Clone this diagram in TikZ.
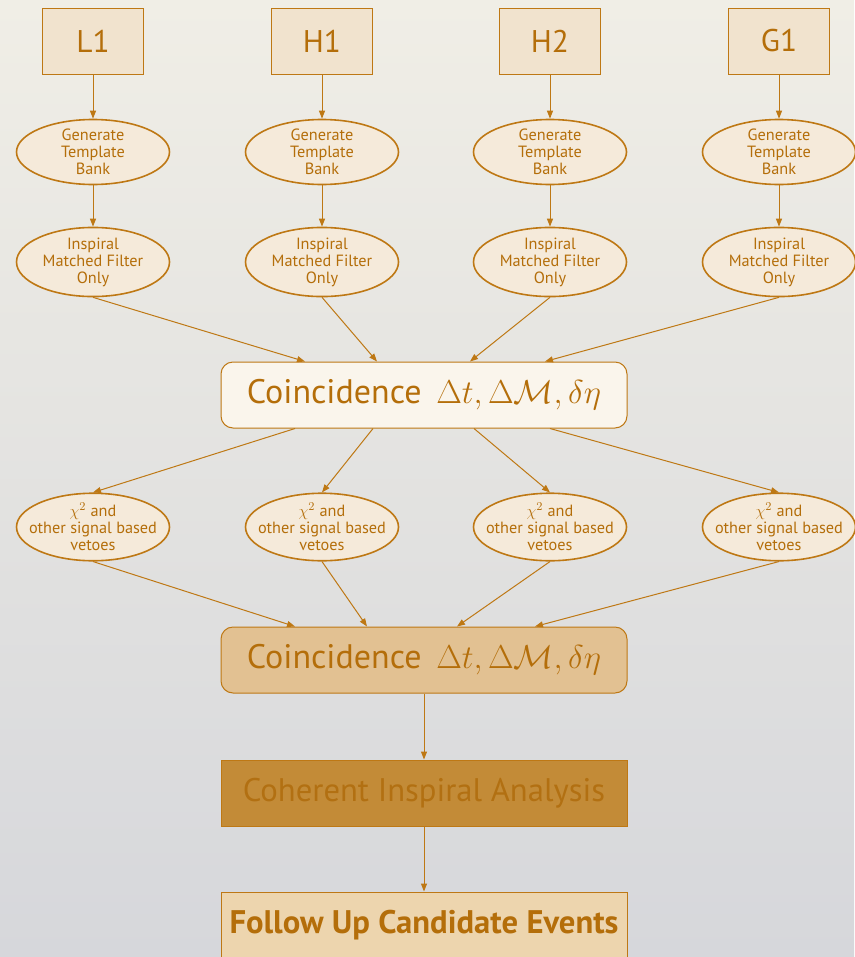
\documentclass[tikz,border=0pt]{standalone}
\usepackage{fontspec}
\setmainfont{PT Sans}
\usepackage{amsmath}
\usetikzlibrary{shapes.geometric,arrows.meta,calc}
\definecolor{ligo}{RGB}{190,120,20}
\definecolor{ligotext}{RGB}{180,110,10}
\definecolor{ifofill}{RGB}{241,227,206}
\definecolor{ellfill}{RGB}{245,234,218}
\definecolor{coinfill}{RGB}{250,245,236}
\definecolor{coinbfill}{RGB}{226,193,146}
\definecolor{cohfill}{RGB}{195,139,55}
\definecolor{cohtext}{RGB}{178,112,18}
\definecolor{followfill}{RGB}{237,213,174}
\definecolor{skytop}{RGB}{240,238,230}
\definecolor{skybot}{RGB}{214,215,219}
\tikzset{every picture/.style={line width=0.75pt}}

\begin{document}
\begin{tikzpicture}[x=0.75pt,y=0.75pt,yscale=-1,xscale=1,
	ifo/.style={draw=ligo,fill=ifofill,minimum width=75.75pt,minimum height=49.5pt,inner sep=0.75pt,text=ligotext,font=\fontsize{23.5}{27}\selectfont},
	stage/.style={ellipse,draw=ligo,line width=1.2pt,fill=ellfill,minimum width=114.75pt,minimum height=48.75pt,inner xsep=-8pt,inner ysep=0pt,align=center,text=ligotext,font=\fontsize{12.2}{12.75}\selectfont},
	wide/.style={draw=ligo,minimum width=304.5pt,minimum height=49.5pt,inner sep=0.75pt,text=ligotext,font=\fontsize{25.5}{28}\selectfont},
	flow/.style={draw=ligo,-{Triangle[length=6pt,width=4.5pt]}}]
	%set diagram to 854 x 957
	\shade[top color=skytop,bottom color=skybot] (0,0) rectangle (854,957);
	\useasboundingbox (0,0) rectangle (854,957);
	
	%Detectors and their chains
	\foreach \n/\x in {L1/93,H1/322,H2/550,G1/779}{
		\node[ifo] (\n) at (\x,41) {\n};
		\node[stage] (gen\n) at (\x,152) {Generate\\Template\\Bank};
		\node[stage] (ins\n) at (\x,262) {Inspiral\\Matched Filter\\Only};
		\node[stage] (chi\n) at (\x,527) {$\chi^2$ and\\other signal based\\vetoes};
		\draw[flow] (\n) -- (gen\n);
		\draw[flow] (gen\n) -- (ins\n);
	}
	
	%Coincidence stages
	\node[wide,rounded corners=9pt,fill=coinfill] (coA) at (424,395) {Coincidence\, $\Delta t, \Delta\mathcal{M}, \delta\eta$};
	\node[wide,rounded corners=9pt,fill=coinbfill] (coB) at (424,660) {Coincidence\, $\Delta t, \Delta\mathcal{M}, \delta\eta$};
	\node[wide,fill=cohfill,text=cohtext,font=\fontsize{24.5}{28}\selectfont] (coh) at (424,793) {Coherent Inspiral Analysis};
	\node[wide,fill=followfill,font=\fontsize{24.5}{28}\selectfont\bfseries] (fol) at (424,925) {Follow Up Candidate Events};
	
	%Straight Lines into and out of coincidence
	\foreach \n/\a/\b/\c in {L1/-119/-129/-129,H1/-47/-51/-57,H2/46/50/33,G1/121/126/111}{
		\draw[flow] (ins\n.south) -- ($(coA.north)+(\a,0)$);
		\draw[flow] ($(coA.south)+(\b,0)$) -- (chi\n.north);
		\draw[flow] (chi\n.south) -- ($(coB.north)+(\c,0)$);
	}
	\draw[flow] (coB) -- (coh);
	\draw[flow] (coh) -- (fol);
	
\end{tikzpicture}
\end{document}
